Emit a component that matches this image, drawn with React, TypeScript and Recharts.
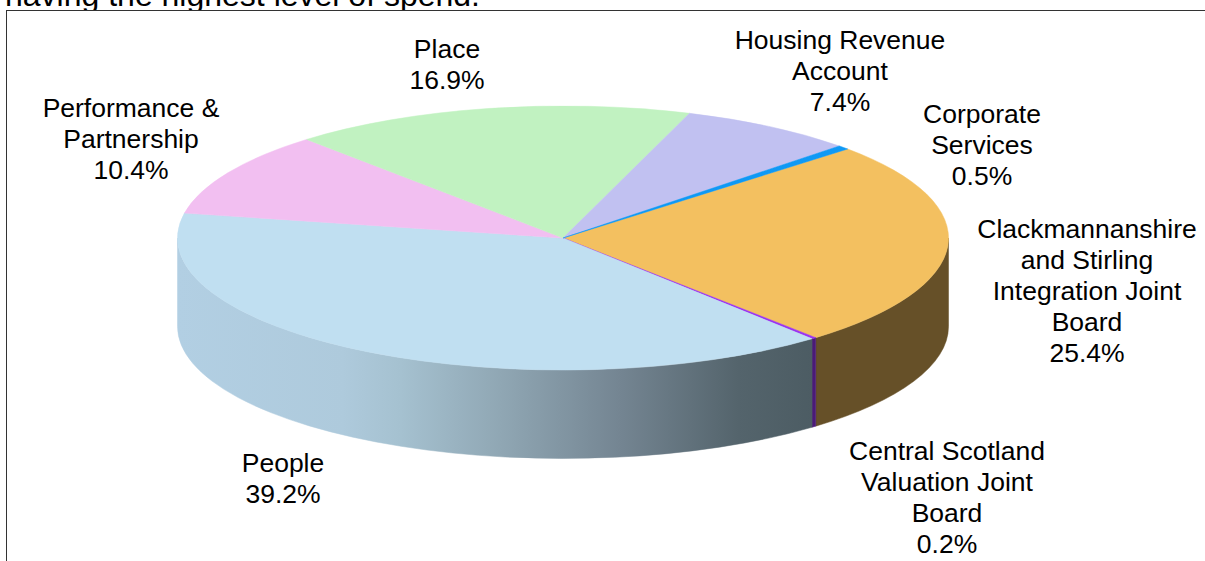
import { PieChart, Pie, Cell } from 'recharts'

const categories = [
  'Clackmannanshire and Stirling Integration Joint Board',
  'Central Scotland Valuation Joint Board',
  'People',
  'Performance & Partnership',
  'Place',
  'Housing Revenue Account',
  'Corporate Services',
]
const shares = [25.4, 0.2, 39.2, 10.4, 16.9, 7.4, 0.5]
const topColors = ['#f3c060', '#9a33f0', '#c0dff1', '#f2bff1', '#c1f2c1', '#c1c1f1', '#0f99f5']
const sideColors = ['#665028', '#4b1a78', 'url(#peopleSide)', '#79607a', '#617961', '#606079', '#074c7a']

// how each label wraps, and where its first line sits
const labelLines = [
  ['Clackmannanshire', 'and Stirling', 'Integration Joint', 'Board'],
  ['Central Scotland', 'Valuation Joint', 'Board'],
  ['People'],
  ['Performance &', 'Partnership'],
  ['Place'],
  ['Housing Revenue', 'Account'],
  ['Corporate', 'Services'],
]
const labelX = [1087, 947, 283, 131, 447, 840, 982]
const labelY = [238, 460, 472, 117, 58, 49, 123]

const data = categories.map((name, i) => ({ name, value: shares[i] }))

const CX = 563
const CY = 238
const RX = 385.5
const RY = 132
const DEPTH = 88.5
const LINE = 31

const pt = (deg: number, dy = 0) => {
  const a = (deg * Math.PI) / 180
  return `${CX + RX * Math.cos(a)} ${CY - RY * Math.sin(a) + dy}`
}

function Slice3D(props: any) {
  const { startAngle, endAngle, index } = props
  const large = startAngle - endAngle > 180 ? 1 : 0
  const top = `M${CX} ${CY}L${pt(startAngle)}A${RX} ${RY} 0 ${large} 1 ${pt(endAngle)}Z`
  // only the front half of the rim is visible
  const a = Math.min(startAngle, 0)
  const b = Math.max(endAngle, -180)
  const color = topColors[index]
  return (
    <g>
      {a > b && (
        <path
          d={`M${pt(a)}A${RX} ${RY} 0 0 1 ${pt(b)}L${pt(b, DEPTH)}A${RX} ${RY} 0 0 0 ${pt(a, DEPTH)}Z`}
          fill={sideColors[index]}
          stroke={sideColors[index]}
          strokeWidth={0.5}
        />
      )}
      <path d={top} fill={color} stroke={color} strokeWidth={0.5} />
    </g>
  )
}

function renderLabel(props: any) {
  const i = props.index
  const lines = [...labelLines[i], `${shares[i].toFixed(1)}%`]
  return (
    <text
      key={i}
      x={labelX[i]}
      y={labelY[i]}
      textAnchor="middle"
      fontFamily="Liberation Sans"
      fontSize={26.5}
      fill="#000"
    >
      {lines.map((l, j) => (
        <tspan key={j} x={labelX[i]} dy={j === 0 ? 0 : LINE}>
          {l}
        </tspan>
      ))}
    </text>
  )
}

export default function App() {
  return (
    <div style={{ position: 'absolute', left: 0, top: 0, width: 1205, height: 561, overflow: 'hidden', background: '#fff' }}>
      <div
        style={{
          position: 'absolute',
          left: 5,
          top: -23,
          fontFamily: 'Liberation Sans',
          fontSize: 32,
          lineHeight: '37px',
          color: '#000',
          whiteSpace: 'nowrap',
        }}
      >
        having the highest level of spend.
      </div>
      <div
        style={{
          position: 'absolute',
          left: 6,
          top: 10,
          width: 1199,
          height: 551,
          boxSizing: 'border-box',
          borderLeft: '1px solid #333',
          borderTop: '1px solid #333',
          background: '#fff',
        }}
      />
      <div style={{ position: 'absolute', left: 0, top: 0 }}>
        <PieChart width={1205} height={561}>
          <defs>
            <linearGradient id="peopleSide" gradientUnits="userSpaceOnUse" x1="177" y1="0" x2="815" y2="0">
              <stop offset="0" stopColor="#b2cfe3" />
              <stop offset="0.26" stopColor="#aecadc" />
              <stop offset="0.35" stopColor="#a5c1d0" />
              <stop offset="0.506" stopColor="#90a7b4" />
              <stop offset="0.694" stopColor="#748592" />
              <stop offset="0.88" stopColor="#54646c" />
              <stop offset="1" stopColor="#4c5c63" />
            </linearGradient>
          </defs>
          <Pie
            data={data}
            dataKey="value"
            nameKey="name"
            cx={CX}
            cy={CY}
            outerRadius={RX}
            startAngle={42.4}
            endAngle={-317.6}
            stroke="none"
            shape={Slice3D}
            label={renderLabel}
            labelLine={false}
            isAnimationActive={false}
          >
            {data.map((_, i) => (
              <Cell key={i} fill={topColors[i]} />
            ))}
          </Pie>
        </PieChart>
      </div>
    </div>
  )
}
